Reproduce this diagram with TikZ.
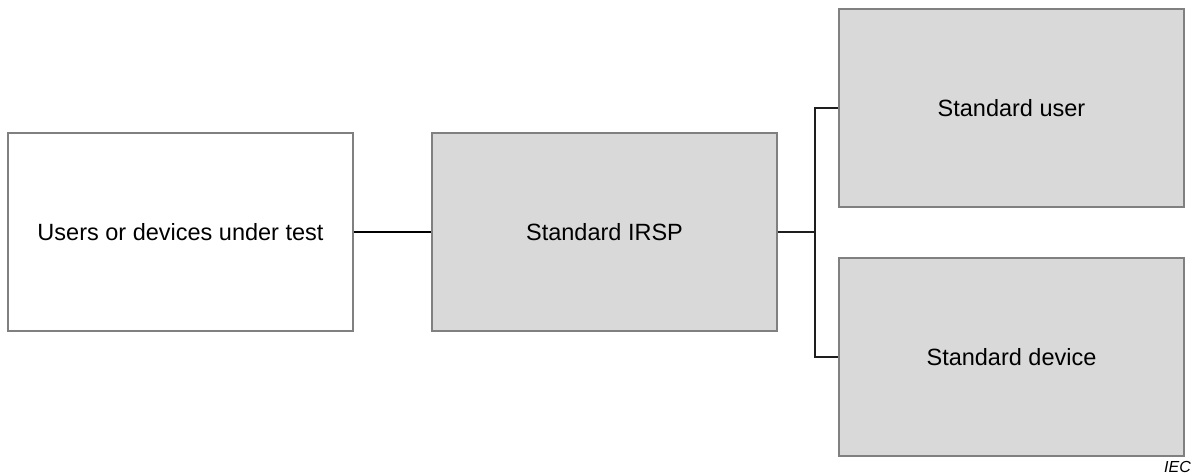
\documentclass[tikz,border=0pt]{standalone}
\usepackage{fontspec}
\setmainfont{Liberation Sans}
\begin{document}
\begin{tikzpicture}[x=1pt,y=-1pt,
  boxstyle/.style={draw={rgb,255:red,128;green,128;blue,128},line width=1.4pt,minimum width=345pt,minimum height=198pt,inner sep=0pt,font=\fontsize{23.5}{28}\selectfont},
  grayfill/.style={fill={rgb,255:red,217;green,217;blue,217}},
  link/.style={draw=black,line width=2.8pt},
  thinlink/.style={draw={rgb,255:red,30;green,30;blue,30},line width=2pt}]
\useasboundingbox (0,0) rectangle (1199,475);
\node[boxstyle,fill=white] (dut) at (180.5,232) {Users or devices under test};
\node[boxstyle,grayfill] (irsp) at (604.5,232) {Standard IRSP};
\node[boxstyle,grayfill] (user) at (1011.5,108) {Standard user};
\node[boxstyle,grayfill] (dev) at (1011.5,357) {Standard device};
\coordinate (j) at (815,232);
\draw[link] (dut.east) -- (irsp.west);
\draw[thinlink] (irsp.east) -- (j);
\draw[thinlink] (user.west) -| (j) |- (dev.west);
\node[font=\fontsize{16}{18}\selectfont\itshape,anchor=south east,inner sep=0pt] (iec) at (1191,473) {IEC};
\end{tikzpicture}
\end{document}
